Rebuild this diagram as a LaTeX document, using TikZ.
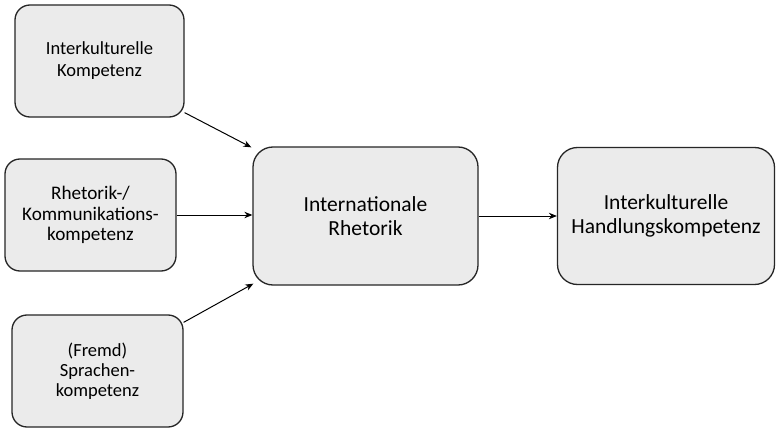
\documentclass[tikz,border=0pt]{standalone}
\usepackage{fontspec}
\setmainfont{Carlito}
\usetikzlibrary{arrows.meta,calc}
\begin{document}
\begin{tikzpicture}[x=1pt,y=-1pt,
  box/.style={draw=black!85,line width=1.3pt,fill=black!8,rounded corners=15pt,
    align=center,inner sep=0pt,font=\fontsize{18.5}{20.5}\selectfont},
  bigbox/.style={box,rounded corners=20pt,font=\fontsize{21.5}{24}\selectfont},
  conn/.style={line width=1pt,-{Stealth[length=8pt,width=6.5pt]}}]
\useasboundingbox[fill=white] (0,0) rectangle (777,428);
\node[box,minimum width=169pt,minimum height=112pt,font=\fontsize{18.5}{22}\selectfont] (b1) at (99.5,61) {Interkulturelle\\Kompetenz};
\node[box,minimum width=171pt,minimum height=112pt,font=\fontsize{19.2}{20.8}\selectfont] (b2) at (90.5,215) {Rhetorik-/\\Kommunikations-\\kompetenz};
\node[box,minimum width=171pt,minimum height=112pt,font=\fontsize{18.5}{20}\selectfont] (b3) at (97.5,371) {(Fremd)\\Sprachen-\\kompetenz};
\node[bigbox,minimum width=225pt,minimum height=138pt] (c) at (365.5,216) {Internationale\\Rhetorik};
\node[bigbox,minimum width=217pt,minimum height=137pt] (r) at (666,216) {Interkulturelle\\Handlungskompetenz};
\coordinate (s1) at ($(b1.south east)+(0,-5)$);
\coordinate (s3) at ($(b3.north east)+(0,8)$);
\draw[conn] (s1) -- ($(c.north west)+(-1,1)$);
\draw[conn] (b2.east) -- (b2.east -| c.west);
\draw[conn] (s3) -- ($(c.south west)+(1,-2)$);
\draw[conn] (c.east) -- (r.west);
\end{tikzpicture}
\end{document}
